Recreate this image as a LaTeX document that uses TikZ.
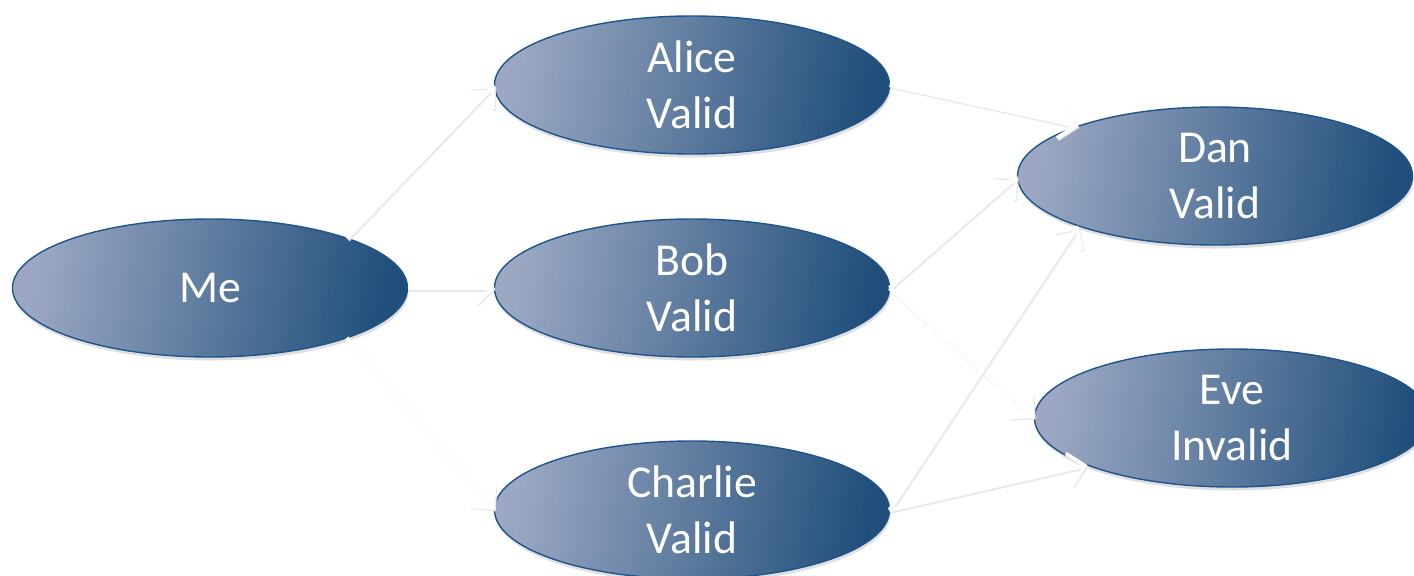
\documentclass[tikz,border=0pt]{standalone}
\usepackage{fontspec}
\setmainfont{Carlito}
\usepackage{tikz}
\usetikzlibrary{shapes.geometric,arrows.meta,positioning,shadows}
\usepackage{xcolor}
\definecolor{lightblue}{RGB}{156,168,195}
\definecolor{darkblue}{RGB}{31,78,122}
\definecolor{edgeblue}{RGB}{30,84,140}

\begin{document}
\begin{tikzpicture}[
  person/.style={ellipse, draw=edgeblue, line width=0.8pt, left color=lightblue, right color=darkblue, shading angle=80,
    minimum width=7.9cm, minimum height=2.76cm, inner sep=0pt, outer sep=0pt, align=center, text=white,
    font=\fontsize{26}{32}\selectfont, drop shadow={opacity=0.25, shadow xshift=0.6pt, shadow yshift=-2pt}},
  arr/.style={-{Straight Barb[length=3.2mm, width=6.4mm, line width=2pt]}, white, line width=2.3pt,
    preaction={draw=black!9, line width=2.6pt, transform canvas={xshift=0.7pt, yshift=-0.8pt}}}
]
\useasboundingbox (0,0) rectangle (28.28,-11.52);
\node[person] (me) at (4.2,-5.76) {Me};
\node[person, right=1.74cm of me] (bob) {Bob\\Valid};
\node[person, above=1.3cm of bob] (alice) {Alice\\Valid};
\node[person, below=1.68cm of bob] (charlie) {Charlie\\Valid};
\node[person] (dan) at (24.3,-3.52) {Dan\\Valid};
\node[person] (eve) at (24.64,-8.36) {Eve\\Invalid};
\draw[arr] (me.20) -- (alice.west); \draw[arr] (me.east) -- (bob.west); \draw[arr] (me.-20) -- (charlie.west);
\draw[arr] (alice.east) -- (dan.160); \draw[arr] (bob.east) -- (dan.west); \draw[arr] (bob.east) -- (eve.west);
\draw[arr] (charlie.east) -- (dan.200); \draw[arr] (charlie.east) -- (eve.198);
\end{tikzpicture}
\end{document}
